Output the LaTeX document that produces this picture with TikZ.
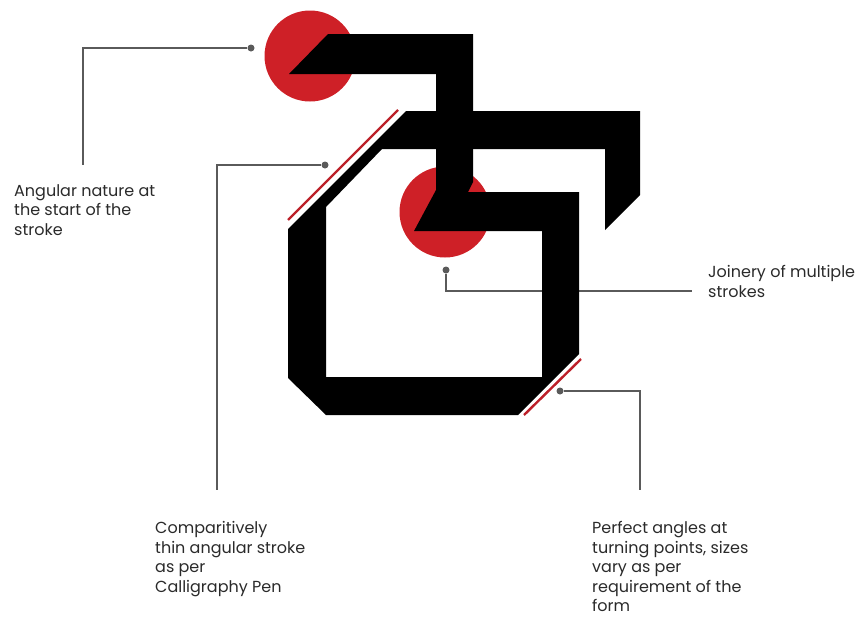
\documentclass[tikz,border=0pt]{standalone}
\usepackage{fontspec}
\setmainfont{Poppins}
\definecolor{penred}{HTML}{CE2027}
\definecolor{penline}{HTML}{BC2029}
\definecolor{leader}{HTML}{5A5A5A}
\definecolor{txt}{HTML}{2A2A2A}
\tikzset{
  ink/.style={fill=black,draw=none},
  disc/.style={circle,fill=penred,draw=none,minimum size=91pt,inner sep=0pt},
  dot/.style={circle,fill=leader,draw=none,minimum size=7pt,inner sep=0pt},
  lead/.style={draw=leader,line width=1.2pt},
  penstroke/.style={draw=penline,line width=2.4pt},
  lab/.style={anchor=north west,align=left,inner sep=0pt,text=txt,font=\fontsize{16pt}{19.4pt}\selectfont}
}
\begin{document}
\begin{tikzpicture}[x=1pt,y=-1pt]
\useasboundingbox (0,0) rectangle (858,616);
\node[disc] (c1) at (310,56) {};
\node[disc] (c2) at (445,212) {};
\coordinate (a1) at (83,165);
\coordinate (a2) at (217,490);
\coordinate (a3) at (692,291);
\coordinate (a4) at (640,490);
\node[dot] (d1) at (251,48) {};
\node[dot] (d2) at (325,165) {};
\node[dot] (d3) at (446,270) {};
\node[dot] (d4) at (560,391) {};
\draw[lead] (d1) -| (a1);
\draw[lead] (d2) -| (a2);
\draw[lead] (d3) |- (a3);
\draw[lead] (d4) -| (a4);
% upper stroke
\fill[ink] (289,74) -- (328,34) -- (473,34) -- (473,182) -- (468,192) -- (436,192) -- (436,74) -- cycle;
% main stroke
\fill[ink] (406,111) -- (640,111) -- (640,195) -- (605,230) -- (605,149) -- (382,149)
  -- (326,207) -- (326,377) -- (542,377) -- (542,231) -- (414,231) -- (436,190) -- (468,192)
  -- (579,192) -- (579,354) -- (518,415) -- (326,415) -- (288,378) -- (288,229) -- cycle;
\coordinate (r1) at (288,220); \coordinate (r2) at (398,110);
\coordinate (r3) at (524,415); \coordinate (r4) at (581,359);
\draw[penstroke] (r1) -- (r2);
\draw[penstroke] (r3) -- (r4);
\node[lab] (t1) at (14,184.5) {Angular nature at\\the start of the\\stroke};
\node[lab] (t2) at (155,521.5) {Comparitively\\thin angular stroke\\as per\\Calligraphy Pen};
\node[lab] (t3) at (592,521.5) {Perfect angles at\\turning points, sizes\\vary as per\\requirement of the\\form};
\node[lab] (t4) at (708,265.5) {Joinery of multiple\\strokes};
\end{tikzpicture}
\end{document}
